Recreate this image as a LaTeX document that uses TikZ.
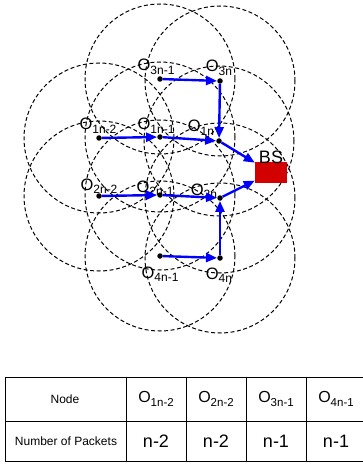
\documentclass[tikz,border=0pt]{standalone}
\usepackage{fontspec}
\setmainfont{Liberation Sans}
\usetikzlibrary{positioning, calc, arrows.meta, backgrounds}
\definecolor{bsred}{RGB}{210,0,0}
% node name with its index set lower and smaller
\newcommand{\Osub}[2][12]{O\raisebox{-0.4ex}{\fontsize{#1}{#1}\selectfont #2}}

\begin{document}
\begin{tikzpicture}[x=1pt, y=-1pt,
  dot/.style={circle, fill=black, inner sep=0pt, minimum size=5.5pt},
  coverage/.style={draw=black, line width=1pt, dash pattern=on 4pt off 2.5pt},
  flow/.style={-{Triangle[length=11pt,width=9pt]}, line width=2.4pt, blue},
  lbl/.style={inner sep=0pt, anchor=base, font=\fontsize{16.5}{16.5}\selectfont},
  cell/.style={inner sep=0pt, font=\fontsize{12}{12}\selectfont}]
  \useasboundingbox (0,0) rectangle (363,465);

  % sensor nodes
  \node[dot] (o3a) at (160,79) {};
  \node[dot] (o3b) at (220,81) {};
  \node[dot] (o1a) at (99,138) {};
  \node[dot] (o1b) at (160,137) {};
  \node[dot] (o1c) at (219,141) {};
  \node[dot] (o2a) at (99,196) {};
  \node[dot] (o2b) at (160,195) {};
  \node[dot] (o2c) at (220,198) {};
  \node[dot] (o4a) at (160,256) {};
  \node[dot] (o4b) at (220,258) {};

  \node[fill=bsred, minimum width=32pt, minimum height=21pt, inner sep=0pt] (bs) at (271,172.5) {};
  \node[lbl, font=\fontsize{18}{18}\selectfont] (bstxt) at (271,163.5) {BS};

  % transmission ranges
  \begin{scope}[on background layer]
    \foreach \n in {o3a,o3b,o1a,o1b,o1c,o2a,o2b,o2c,o4a,o4b}
      \draw[coverage] (\n) circle (75pt);
  \end{scope}

  \node[lbl] (l3a) at ($(o3a)+(-4,-8)$) {\Osub{3n-1}};
  \node[lbl] (l3b) at ($(o3b)+(-1,-9)$) {\Osub{3n}};
  \node[lbl] (l1a) at ($(o1a)+(-1,-8)$) {\Osub{1n-2}};
  \node[lbl] (l1b) at ($(o1b)+(-4,-7)$) {\Osub{1n-1}};
  \node[lbl] (l1c) at ($(o1c)+(-18,-9)$) {\Osub{1n}};
  \node[lbl] (l2a) at ($(o2a)+(0,-6)$) {\Osub{2n-2}};
  \node[lbl] (l2b) at ($(o2b)+(-5,-3)$) {\Osub{2n-1}};
  \node[lbl] (l2c) at ($(o2c)+(-16,-3)$) {\Osub{2n}};
  \node[lbl] (l4a) at ($(o4a)+(0,22)$) {\Osub{4n-1}};
  \node[lbl] (l4b) at ($(o4b)+(-1,21)$) {\Osub{4n}};

  % packet routes
  \draw[flow] (o3a) -- (o3b);
  \draw[flow] (o3b) -- (o1c);
  \draw[flow] (o1a) -- (o1b);
  \draw[flow] (o1b) -- (o1c);
  \draw[flow] (o1c) -- (bs);
  \draw[flow] (o2a) -- (o2b);
  \draw[flow] (o2b) -- (o2c);
  \draw[flow] (o2c) -- (bs);
  \draw[flow] (o4a) -- (o4b);
  \draw[flow] (o4b) -- (o2c);

  % table
  \begin{scope}[line width=0.9pt]
    \draw (5,377) -- (363,377) (5,421) -- (363,421) (5,461) -- (363,461);
    \foreach \x in {5,126,186,246,306}
      \draw (\x,377) -- (\x,461);
  \end{scope}
  \node[cell] (hnode) at (65,399) {Node};
  \node[cell] (hpack) at (66,441) {Number of Packets};
  \foreach \x/\s/\v [count=\i] in {156/1n-2/n-2, 216/2n-2/n-2, 276/3n-1/n-1, 336/4n-1/n-1} {
    \node[cell, font=\fontsize{16}{16}\selectfont] (c\i) at (\x,399) {\Osub[11.5]{\s}};
    \node[cell, font=\fontsize{18}{18}\selectfont] (v\i) at (\x,441) {\v};
  }
\end{tikzpicture}
\end{document}
